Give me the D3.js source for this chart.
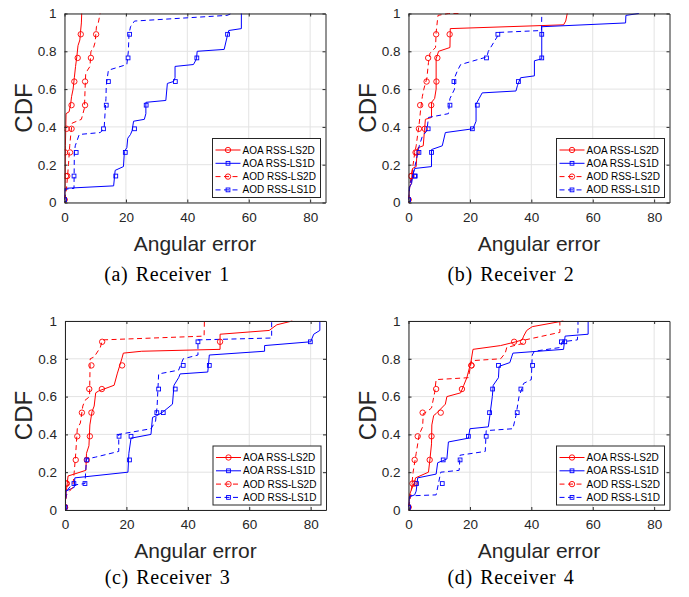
<!DOCTYPE html>
<html lang="en">

<head>
    <meta charset="UTF-8">
    <title>CDF of angular error</title>
    <style>
        body { margin: 0; background: #fff; }
    </style>
</head>

<body>
    <script src="https://cdn.jsdelivr.net/npm/d3@7"></script>
    <script>
        const svg_w = 689;
        const svg_h = 597;

        const captions = ["(a) Receiver 1", "(b) Receiver 2", "(c) Receiver 3", "(d) Receiver 4"];
        const seriesNames = ["AOA RSS-LS2D", "AOA RSS-LS1D", "AOD RSS-LS2D", "AOD RSS-LS1D"];
        const xTicks = [0, 20, 40, 60, 80];
        const yTicks = [0, 0.2, 0.4, 0.6, 0.8, 1];
        const yTickLabels = ["0", "0.2", "0.4", "0.6", "0.8", "1"];
        // cdf levels where the markers sit
        const markerLevels = [0.015, 0.14, 0.265, 0.39, 0.515, 0.64, 0.765, 0.89];

        // Receiver 1
        const r1_aoa2d = [[0,0.015],[0.2,0.1],[0.3,0.3],[0.5,0.47],[1.5,0.48],[2,0.52],[2.3,0.56],[2.8,0.6],[3.2,0.66],[3.6,0.72],[4,0.77],[4.4,0.83],[5,0.86],[5.2,0.9],[5.5,0.95],[5.6,1]];
        const r1_aoa1d = [[0,0.015],[0.1,0.075],[16,0.088],[16.5,0.17],[19.2,0.19],[19.5,0.27],[20.3,0.29],[20.6,0.34],[21.5,0.36],[22,0.38],[22.5,0.43],[26,0.44],[26.5,0.47],[26.5,0.53],[33,0.54],[33.5,0.63],[35.5,0.64],[36,0.66],[36,0.72],[42,0.73],[43,0.76],[43.2,0.8],[52,0.81],[53,0.88],[53.5,0.91],[57.6,0.92],[57.6,1]];
        const r1_aod2d = [[0,0.015],[0.5,0.05],[0.9,0.12],[1.3,0.2],[1.7,0.3],[2.1,0.37],[2.5,0.42],[5.5,0.44],[6,0.47],[6.5,0.5],[6.7,0.6],[6.9,0.68],[7.5,0.7],[8.3,0.72],[8.6,0.8],[9.3,0.81],[10,0.85],[10.4,0.93],[11,0.95],[11.6,1]];
        const r1_aod1d = [[0,0.015],[0.3,0.07],[3.1,0.075],[3.2,0.26],[3.5,0.3],[4.8,0.36],[11.6,0.37],[12.9,0.39],[13.5,0.55],[13.6,0.62],[14.3,0.7],[20.3,0.73],[20.8,0.8],[21,0.89],[21.5,0.93],[22.8,0.96],[52.9,0.99],[54.5,1]];
        const r1_marks = [
            [0, 0.5, 0.2, 0.7, 2.3, 3.2, 4.3, 5.3],
            [0, 16.7, 19.8, 22.8, 26.6, 36.1, 43.1, 53.1],
            [0, 0.9, 1.8, 2.3, 6.7, 6.7, 8.6, 10.3],
            [0, 3.1, 3.8, 12.7, 13.6, 14.3, 20.7, 21.2]
        ];

        // Receiver 2
        const r2_aoa2d = [[0,0.015],[0.3,0.08],[0.9,0.1],[1.3,0.18],[2.5,0.19],[2.8,0.27],[3.1,0.29],[4.8,0.3],[5.2,0.38],[5.5,0.44],[7.5,0.45],[7.5,0.53],[8.5,0.55],[9,0.6],[9,0.76],[9.8,0.8],[13.5,0.82],[13.6,0.92],[50.5,0.94],[51.2,0.96],[51.7,1]];
        const r2_aoa1d = [[0,0.015],[0.2,0.08],[1,0.1],[1.5,0.15],[2,0.18],[7.5,0.19],[7.5,0.28],[11,0.3],[12,0.37],[21,0.39],[22,0.43],[22,0.52],[23,0.55],[24,0.58],[35,0.59],[35.5,0.62],[36.5,0.66],[41,0.67],[41,0.75],[43.4,0.76],[43.4,0.93],[70.7,0.95],[70.8,0.99],[75,1]];
        const r2_aod2d = [[0,0.015],[0.5,0.1],[1,0.15],[1.5,0.2],[2,0.26],[2.5,0.3],[3,0.36],[3.5,0.42],[4,0.5],[4.5,0.56],[5,0.6],[6,0.66],[6.5,0.74],[7,0.79],[8.8,0.82],[9,0.9],[9.6,0.99],[13,1],[16.5,1]];
        const r2_aod1d = [[0,0.015],[0.5,0.1],[1.5,0.15],[2.5,0.22],[3.5,0.3],[4.5,0.35],[6,0.38],[6.5,0.45],[13,0.47],[13.5,0.55],[15,0.6],[15,0.66],[16,0.7],[17,0.73],[25.5,0.77],[26,0.8],[29,0.88],[29.5,0.9],[43.3,0.91],[43.4,0.99],[43.4,1]];
        const r2_marks = [
            [0, 0.9, 2.7, 5.3, 7.4, 9.1, 9.4, 13.4],
            [0, 2.0, 7.5, 20.8, 22.4, 35.8, 43.4, 43.4],
            [0, 0.9, 2.3, 3.4, 3.8, 5.9, 6.4, 9.0],
            [0, 2.2, 3.4, 6.4, 13.5, 14.8, 25.4, 29.1]
        ];

        // Receiver 3
        const r3_aoa2d = [[0,0.015],[0.3,0.08],[1,0.18],[3,0.19],[6.8,0.21],[7,0.3],[7.8,0.34],[8.1,0.45],[8.8,0.52],[9.5,0.55],[10,0.62],[11,0.63],[16,0.66],[17,0.72],[18.5,0.8],[19,0.83],[25,0.84],[50.5,0.85],[50.5,0.93],[66.5,0.95],[69,0.98],[74,1]];
        const r3_aoa1d = [[0,0.015],[0.3,0.1],[3,0.12],[3.2,0.17],[20.5,0.2],[20.8,0.3],[21.5,0.38],[28,0.4],[28.5,0.49],[30,0.5],[32,0.52],[35,0.56],[35.5,0.66],[37,0.7],[37.5,0.72],[46.5,0.73],[47,0.82],[65,0.84],[65,0.87],[80,0.89],[81,0.93],[83,0.95],[83,1]];
        const r3_aod2d = [[0,0.015],[0.5,0.08],[2.5,0.12],[3,0.2],[3.5,0.3],[4,0.43],[5,0.46],[5.8,0.55],[6.5,0.58],[8,0.6],[8.2,0.8],[9.5,0.81],[11.5,0.86],[12.2,0.9],[45.3,0.92],[45.4,1]];
        const r3_aod1d = [[0,0.015],[0.5,0.1],[2,0.13],[6.5,0.14],[7,0.27],[10,0.28],[17.5,0.31],[17.5,0.4],[28,0.43],[29.5,0.47],[30,0.55],[30.5,0.72],[37,0.74],[38.5,0.8],[43.3,0.82],[43.3,0.9],[67.3,0.91],[67.3,1]];
        const r3_marks = [
            [0, 0.4, 7.1, 8.1, 8.6, 12.0, 18.6, 50.5],
            [0, 2.9, 21.0, 21.5, 32.0, 35.9, 47.0, 79.9],
            [0, 0.6, 3.5, 4.0, 5.5, 7.9, 8.6, 12.1],
            [0, 6.5, 7.1, 17.6, 29.9, 30.5, 38.5, 43.3]
        ];

        // Receiver 4
        const r4_aoa2d = [[0,0.015],[0.3,0.08],[2,0.15],[2.3,0.17],[6.5,0.2],[7,0.27],[7.5,0.35],[7.6,0.45],[8.2,0.5],[9,0.51],[12,0.56],[12.5,0.6],[17,0.62],[18,0.66],[19,0.7],[20.3,0.78],[21,0.85],[30,0.87],[35,0.89],[37,0.9],[37.5,0.92],[38.5,0.95],[40.3,0.97],[50.4,1]];
        const r4_aoa1d = [[0,0.015],[0.3,0.07],[2,0.08],[2.5,0.1],[3,0.17],[9,0.19],[9.5,0.25],[11,0.26],[12.5,0.27],[13,0.36],[19.5,0.38],[20,0.43],[26,0.44],[26.5,0.5],[27.3,0.6],[27.6,0.66],[29.3,0.7],[29.5,0.76],[33,0.78],[34,0.83],[50.5,0.85],[51,0.92],[58.5,0.93],[58.5,1]];
        const r4_aod2d = [[0,0.015],[0.5,0.05],[1,0.12],[1.5,0.2],[2.5,0.3],[3.5,0.4],[4.6,0.44],[4.8,0.51],[6,0.52],[7.5,0.54],[8.5,0.62],[9,0.69],[19.5,0.7],[20.2,0.76],[20.5,0.79],[30,0.8],[31.5,0.83],[32,0.86],[37,0.88],[38,0.9],[49.3,0.94],[49.3,1]];
        const r4_aod1d = [[0,0.015],[0.5,0.075],[9,0.08],[10.5,0.2],[16.5,0.21],[16.8,0.29],[25,0.31],[25.3,0.42],[34,0.43],[35,0.5],[36,0.6],[37.5,0.67],[40,0.69],[40.3,0.82],[41,0.84],[49.5,0.86],[50,0.89],[55,0.9],[55.2,0.95],[55.2,1]];
        const r4_marks = [
            [0, 2.0, 6.9, 7.5, 10.5, 17.4, 20.5, 34.4],
            [0, 2.6, 11.3, 19.5, 26.4, 27.4, 29.3, 50.9],
            [0, 1.3, 2.0, 3.0, 4.6, 9.0, 20.5, 37.3],
            [0, 11.0, 16.8, 25.3, 35.4, 36.6, 40.4, 49.8]
        ];

        const receivers = [
            { lines: [r1_aoa2d, r1_aoa1d, r1_aod2d, r1_aod1d], marks: r1_marks, left: 64.5, top: 13.5, capY: 281 },
            { lines: [r2_aoa2d, r2_aoa1d, r2_aod2d, r2_aod1d], marks: r2_marks, left: 408.5, top: 13.5, capY: 281 },
            { lines: [r3_aoa2d, r3_aoa1d, r3_aod2d, r3_aod1d], marks: r3_marks, left: 65, top: 321, capY: 584 },
            { lines: [r4_aoa2d, r4_aoa1d, r4_aod2d, r4_aod1d], marks: r4_marks, left: 408.5, top: 321, capY: 584 }
        ];

        const colors = ["#ff0000", "#0000ff", "#ff0000", "#0000ff"];
        const dashed = [false, false, true, true];
        const shapes = ["circle", "square", "circle", "square"];

        const plot_w = 261;
        const plot_h = 189;
        const axisColor = "#262626";
        const sans = "'Liberation Sans', Arial, Helvetica, sans-serif";

        const svg = d3.select("body").append("svg")
            .attr("width", svg_w)
            .attr("height", svg_h)
            .style("background", "#fff");

        function drawMarker(g, shape, x, y, color) {
            if (shape == "circle") {
                g.append("circle")
                    .attr("cx", x).attr("cy", y).attr("r", 2.7)
                    .attr("fill", "none").attr("stroke", color).attr("stroke-width", 0.9);
            } else {
                g.append("rect")
                    .attr("x", x - 1.9).attr("y", y - 1.9)
                    .attr("width", 3.8).attr("height", 3.8)
                    .attr("fill", "none").attr("stroke", color).attr("stroke-width", 0.9);
            }
        }

        receivers.forEach((rc, pi) => {
            const g = svg.append("g").attr("transform", `translate(${rc.left},${rc.top})`);
            const x = d3.scaleLinear().domain([0, 85]).range([0, plot_w]);
            const y = d3.scaleLinear().domain([0, 1]).range([plot_h, 0]);

            // grid
            g.append("g").selectAll("line").data(xTicks).join("line")
                .attr("x1", d => x(d)).attr("x2", d => x(d))
                .attr("y1", 0).attr("y2", plot_h)
                .attr("stroke", "#e3e3e3").attr("stroke-width", 1);
            g.append("g").selectAll("line").data(yTicks).join("line")
                .attr("x1", 0).attr("x2", plot_w)
                .attr("y1", d => y(d)).attr("y2", d => y(d))
                .attr("stroke", "#e3e3e3").attr("stroke-width", 1);

            const clipId = "clip" + pi;
            g.append("clipPath").attr("id", clipId)
                .append("rect").attr("x", 0).attr("y", -1).attr("width", plot_w).attr("height", plot_h + 2);

            const line = d3.line().x(d => x(d[0])).y(d => y(d[1]));
            const data_g = g.append("g").attr("clip-path", `url(#${clipId})`);

            rc.lines.forEach((pts, si) => {
                data_g.append("path")
                    .attr("d", line(pts))
                    .attr("fill", "none")
                    .attr("stroke", colors[si])
                    .attr("stroke-width", 1)
                    .attr("stroke-dasharray", dashed[si] ? "5,3.5" : null);
            });
            rc.marks.forEach((xs, si) => {
                xs.forEach((xv, k) => drawMarker(data_g, shapes[si], x(xv), y(markerLevels[k]), colors[si]));
            });

            // axes (box with inner ticks)
            const xAxis = g.append("g").attr("transform", `translate(0,${plot_h})`)
                .call(d3.axisBottom(x).tickValues(xTicks).tickSizeInner(-3).tickSizeOuter(0).tickPadding(7));
            const yAxis = g.append("g")
                .call(d3.axisLeft(y).tickValues(yTicks).tickFormat((d, i) => yTickLabels[i]).tickSizeInner(-3).tickSizeOuter(0).tickPadding(8));
            g.append("g")
                .call(d3.axisTop(x).tickValues(xTicks).tickSizeInner(-3).tickSizeOuter(0).tickFormat(""));
            g.append("g").attr("transform", `translate(${plot_w},0)`)
                .call(d3.axisRight(y).tickValues(yTicks).tickSizeInner(-3).tickSizeOuter(0).tickFormat(""));

            g.selectAll(".domain").attr("stroke", axisColor).attr("stroke-width", 1);
            g.selectAll(".tick line").attr("stroke", axisColor);
            g.selectAll(".tick text")
                .attr("fill", axisColor)
                .style("font-family", sans)
                .style("font-size", "13.5px");
            xAxis.selectAll(".tick text").attr("dy", "0.9em");

            // axis titles
            g.append("text")
                .attr("x", plot_w / 2).attr("y", plot_h + 48)
                .attr("text-anchor", "middle")
                .attr("fill", axisColor)
                .style("font-family", sans).style("font-size", "21px")
                .text("Angular error");
            g.append("text")
                .attr("transform", `translate(-33,${plot_h / 2}) rotate(-90)`)
                .attr("text-anchor", "middle")
                .attr("fill", axisColor)
                .style("font-family", sans).style("font-size", "24px")
                .text("CDF");

            // legend
            const lw = 108, lh = 59;
            const lg = g.append("g").attr("transform", `translate(${plot_w - 5 - lw},${plot_h - 5 - lh})`);
            lg.append("rect").attr("width", lw).attr("height", lh)
                .attr("fill", "#fff").attr("stroke", axisColor).attr("stroke-width", 1);
            seriesNames.forEach((name, si) => {
                const cy = 11.5 + si * 13.3;
                lg.append("line")
                    .attr("x1", 3).attr("x2", 28).attr("y1", cy).attr("y2", cy)
                    .attr("stroke", colors[si]).attr("stroke-width", 1)
                    .attr("stroke-dasharray", dashed[si] ? "5,3.5" : null);
                drawMarker(lg, shapes[si], 15.5, cy, colors[si]);
                lg.append("text")
                    .attr("x", 30).attr("y", cy).attr("dy", "0.35em")
                    .attr("fill", "#000")
                    .style("font-family", sans).style("font-size", "10px")
                    .text(name);
            });

            // caption
            svg.append("text")
                .attr("x", rc.left + plot_w / 2 - 28).attr("y", rc.capY)
                .attr("text-anchor", "middle")
                .attr("fill", "#000")
                .style("font-family", "'Liberation Serif', 'Times New Roman', serif")
                .style("font-size", "20px")
                .style("word-spacing", "2px")
                .style("letter-spacing", "0.6px")
                .text(captions[pi]);
        });
    </script>
</body>

</html>
